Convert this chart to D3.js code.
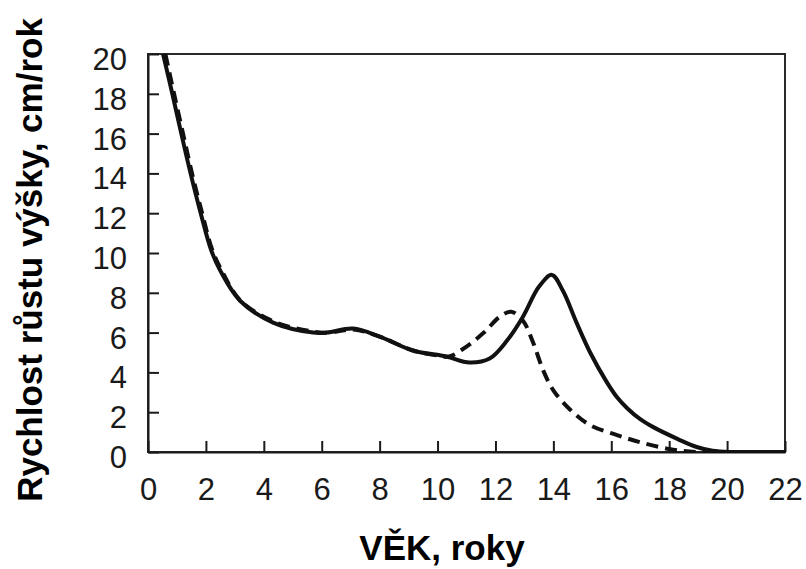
<!DOCTYPE html>
<html>
<head>
<meta charset="utf-8">
<script src="https://cdn.jsdelivr.net/npm/d3@7"></script>
<style>
  html, body { margin: 0; padding: 0; background: #fff; }
  svg { display: block; }
  .tick text { font-family: "Liberation Sans", Arial, sans-serif; font-size: 31px; fill: #1a1a1a; }
  .title { font-family: "Liberation Sans", Arial, sans-serif; font-weight: bold; font-size: 35px; fill: #000; }
</style>
</head>
<body>
<svg id="chart" width="806" height="569"></svg>
<script>
// Growth velocity curves (height, cm per year) by age
const boysAge = [0.52, 0.84, 1.15, 1.47, 1.82, 2.18, 2.5, 3.18, 4.32, 5.7, 6.18, 7.08, 8.0, 9.15, 10.3, 11.1, 11.8, 12.4, 12.95, 13.5, 13.95, 14.33, 14.8, 15.27, 15.85, 16.2, 16.55, 17.0, 17.45, 18.3, 18.95, 19.5, 20.2, 21, 22];
const boysVel = [20, 18, 16, 14, 12, 10.15, 9.1, 7.6, 6.5, 6.0, 6.0, 6.2, 5.8, 5.1, 4.8, 4.5, 4.7, 5.6, 6.8, 8.3, 8.9, 8.1, 6.5, 5.0, 3.5, 2.75, 2.2, 1.65, 1.25, 0.65, 0.25, 0.06, 0, 0, 0];

const girlsAge = [0.6, 0.9, 1.21, 1.52, 1.87, 2.22, 2.55, 3.2, 4.35, 5.7, 6.2, 7.1, 8.0, 9.15, 10.0, 10.4, 11.0, 11.6, 12.15, 12.55, 12.95, 13.3, 13.65, 14.0, 14.6, 15.27, 16.2, 17.1, 18.0, 18.7, 19.5, 22];
const girlsVel = [20, 18, 16, 14, 12, 10.15, 9.1, 7.6, 6.55, 6.05, 6.0, 6.15, 5.8, 5.1, 4.85, 4.8, 5.3, 6.0, 6.8, 7.05, 6.6, 5.5, 4.1, 3.1, 2.1, 1.35, 0.85, 0.45, 0.15, 0.02, 0, 0];

const xTicks = [0, 2, 4, 6, 8, 10, 12, 14, 16, 18, 20, 22];
const yTicks = [0, 2, 4, 6, 8, 10, 12, 14, 16, 18, 20];

const xLabel = "VĚK, roky";
const yLabel = "Rychlost růstu výšky, cm/rok";

const svg = d3.select("#chart");
const plotLeft = 148, plotRight = 785, plotTop = 54, plotBottom = 452;

const x = d3.scaleLinear().domain([0, 22]).range([plotLeft, plotRight]);
const y = d3.scaleLinear().domain([0, 20]).range([plotBottom, plotTop]);

// Frame
svg.append("rect")
  .attr("x", plotLeft).attr("y", plotTop)
  .attr("width", plotRight - plotLeft).attr("height", plotBottom - plotTop)
  .attr("fill", "none").attr("stroke", "#2a2a2a").attr("stroke-width", 2);

// Axes with inward ticks
const xAxis = svg.append("g")
  .attr("transform", `translate(0,${plotBottom})`)
  .call(d3.axisBottom(x).tickValues(xTicks).tickFormat(d3.format("d"))
    .tickSizeInner(-11).tickSizeOuter(0).tickPadding(26));
xAxis.select(".domain").attr("stroke", "#1a1a1a").attr("stroke-width", 2);
xAxis.selectAll(".tick line").attr("stroke", "#1a1a1a").attr("stroke-width", 2);

const yAxis = svg.append("g")
  .attr("transform", `translate(${plotLeft},0)`)
  .call(d3.axisLeft(y).tickValues(yTicks).tickFormat(d3.format("d"))
    .tickSizeInner(-11).tickSizeOuter(0).tickPadding(21));
yAxis.select(".domain").attr("stroke", "#1a1a1a").attr("stroke-width", 2);
yAxis.selectAll(".tick line").attr("stroke", "#1a1a1a").attr("stroke-width", 2);
yAxis.selectAll(".tick text").attr("dy", "0.5em");

// Curves
svg.append("clipPath").attr("id", "plot-clip")
  .append("rect").attr("x", plotLeft).attr("y", plotTop - 1)
  .attr("width", plotRight - plotLeft).attr("height", plotBottom - plotTop + 2);

const line = d3.line()
  .x(d => x(d[0]))
  .y(d => y(Math.max(0, d[1])))
  .curve(d3.curveCatmullRom.alpha(0.5));

const plot = svg.append("g").attr("clip-path", "url(#plot-clip)");

plot.append("path")
  .datum(girlsAge.map((a, i) => [a, girlsVel[i]]))
  .attr("d", line)
  .attr("fill", "none")
  .attr("stroke", "#111")
  .attr("stroke-width", 4)
  .attr("stroke-dasharray", "12,7");

plot.append("path")
  .datum(boysAge.map((a, i) => [a, boysVel[i]]))
  .attr("d", line)
  .attr("fill", "none")
  .attr("stroke", "#111")
  .attr("stroke-width", 4);

// Axis titles
svg.append("text")
  .attr("class", "title")
  .attr("x", 442).attr("y", 560)
  .attr("text-anchor", "middle")
  .text(xLabel);

svg.append("text")
  .attr("class", "title")
  .attr("transform", "translate(42,260) rotate(-90)")
  .attr("text-anchor", "middle")
  .text(yLabel);
</script>
</body>
</html>
